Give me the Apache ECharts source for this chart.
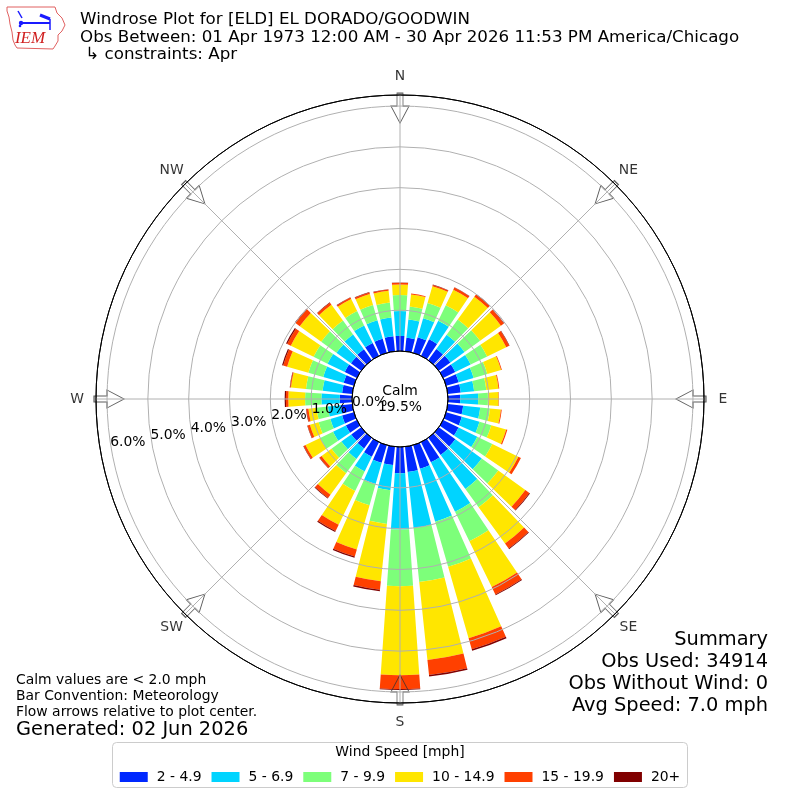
<!DOCTYPE html>
<html><head><meta charset="utf-8">
<script src="https://cdn.jsdelivr.net/npm/echarts@6/dist/echarts.min.js"></script>
<style>html,body{margin:0;padding:0;background:#fff}#c{width:800px;height:800px}</style>
</head><body><div id="c"></div>
<script>
// ---- data ----
const directions = [0,10,20,30,40,50,60,70,80,90,100,110,120,130,140,150,160,170,180,190,200,210,220,230,240,250,260,270,280,290,300,310,320,330,340,350];
const speedBins = ['2 - 4.9','5 - 6.9','7 - 9.9','10 - 14.9','15 - 19.9','20+'];
const binColors = ['#0028ff','#00d4ff','#7dff7a','#ffe600','#ff4000','#800000'];
// percent of observations per direction, for each speed bin
const bin2to5   = [.37,.33,.40,.45,.34,.35,.33,.32,.32,.30,.38,.40,.42,.50,.52,.55,.60,.62,.64,.45,.45,.40,.32,.30,.30,.30,.28,.30,.25,.26,.33,.31,.33,.35,.36,.37];
const bin5to7   = [.61,.45,.48,.51,.43,.43,.42,.38,.33,.44,.42,.45,.51,.80,1.03,1.35,1.35,1.38,1.38,.62,.54,.40,.32,.30,.35,.30,.32,.45,.48,.52,.47,.44,.45,.48,.47,.46];
const bin7to10  = [.39,.32,.39,.42,.46,.47,.45,.35,.30,.24,.24,.30,.41,.50,.55,.80,1.15,1.33,1.39,.83,.54,.53,.43,.30,.35,.30,.28,.40,.41,.38,.38,.46,.42,.39,.39,.37];
const bin10to15 = [.26,.30,.43,.42,.69,.63,.52,.35,.30,.26,.27,.38,.71,.82,1.10,1.25,1.82,1.92,2.18,1.41,1.13,.92,.65,.30,.40,.22,.20,.41,.37,.54,.62,.65,.48,.33,.28,.29];
const bin15to20 = [.04,.02,.03,.06,.07,.09,.08,.02,.02,.01,.02,.03,.07,.12,.15,.20,.28,.37,.34,.21,.18,.17,.10,.06,.05,.06,.05,.06,.02,.10,.10,.13,.06,.04,.04,.03];
const bin20plus = [.01,0,.01,.01,.01,.01,.01,0,0,0,0,0,0,.02,.02,.02,.04,.04,.02,.04,.03,.03,.02,.01,.01,.01,.01,.03,.01,.03,.03,.02,.01,.01,.01,.01];
const binData = [bin2to5,bin5to7,bin7to10,bin10to15,bin15to20,bin20plus];
const compassBearings = [0,45,90,135,180,225,270,315];
const compassNames = ['N','NE','E','SE','S','SW','W','NW'];
const radiusMax = 6.27;
const arrowRadius = 5.95;
const ringColors = ['#000','#b0b0b0','#b0b0b0','#b0b0b0','#b0b0b0','#b0b0b0','#b0b0b0','#000'];
const calmPct = '19.5%';
const titleLines = ['Windrose Plot for [ELD] EL DORADO/GOODWIN','Obs Between: 01 Apr 1973 12:00 AM - 30 Apr 2026 11:53 PM America/Chicago',' \u21b3 constraints: Apr'];
const summaryLines = ['Summary','Obs Used: 34914','Obs Without Wind: 0','Avg Speed: 7.0 mph'];
const noteLines = ['Calm values are < 2.0 mph','Bar Convention: Meteorology','Flow arrows relative to plot center.'];
const generated = 'Generated: 02 Jun 2026';

// ---- chart ----
const FONT = 'DejaVu Sans';
const FS = 13.9;
const C = [400, 399];
const R = [48, 304];
const chart = echarts.init(document.getElementById('c'));
const hidden = {axisLine:{show:false},axisTick:{show:false},axisLabel:{show:false},splitLine:{show:false}};

const graphics = [];
titleLines.forEach((t,i)=>graphics.push({type:'text',x:80,y:20+i*17.5,style:{text:t,fontSize:16.7,fontFamily:FONT,fill:'#000',align:'left',verticalAlign:'middle'}}));
summaryLines.forEach((t,i)=>graphics.push({type:'text',x:768,y:640+i*22,style:{text:t,fontSize:19.4,fontFamily:FONT,fill:'#000',align:'right',verticalAlign:'middle'}}));
noteLines.forEach((t,i)=>graphics.push({type:'text',x:16,y:680+i*16,style:{text:t,fontSize:FS,fontFamily:FONT,fill:'#000',align:'left',verticalAlign:'middle'}}));
graphics.push({type:'text',x:16,y:730,style:{text:generated,fontSize:19.4,fontFamily:FONT,fill:'#000',align:'left',verticalAlign:'middle'}});
graphics.push({type:'text',x:400,y:391,z:10,style:{text:'Calm',fontSize:FS,fontFamily:FONT,fill:'#000',align:'center',verticalAlign:'middle'}});
graphics.push({type:'text',x:400,y:407,z:10,style:{text:calmPct,fontSize:FS,fontFamily:FONT,fill:'#000',align:'center',verticalAlign:'middle'}});
// legend frame + title
graphics.push({type:'rect',z:-1,shape:{x:112.5,y:742.5,width:575,height:45,r:4},style:{fill:'#fff',stroke:'#cccccc',lineWidth:1}});
graphics.push({type:'text',x:400,y:752,style:{text:'Wind Speed [mph]',fontSize:FS,fontFamily:FONT,fill:'#000',align:'center',verticalAlign:'middle'}});
// logo
graphics.push({type:'polygon',shape:{points:[[7,7],[55,7],[57,13],[62,18],[65,25],[62,31],[58,35],[58,41],[55,46],[53,49],[17,48],[15,45],[13,40],[12,32],[10,24],[9,17],[7,11]]},style:{fill:'#fff',stroke:'#e06060',lineWidth:1}});
graphics.push({type:'line',shape:{x1:21,y1:23,x2:50,y2:23},style:{stroke:'#1a1aff',lineWidth:2}});
graphics.push({type:'line',shape:{x1:40,y1:15,x2:50,y2:19},style:{stroke:'#1a1aff',lineWidth:3}});
graphics.push({type:'line',shape:{x1:18,y1:11,x2:22,y2:18},style:{stroke:'#1a1aff',lineWidth:1.5}});
graphics.push({type:'line',shape:{x1:50,y1:19,x2:50,y2:30},style:{stroke:'#1a1aff',lineWidth:1.5}});
graphics.push({type:'circle',shape:{cx:21,cy:23,r:2.2},style:{fill:'#1a1aff'}});
graphics.push({type:'circle',shape:{cx:20,cy:26,r:1.3},style:{fill:'#1a1aff'}});
graphics.push({type:'text',x:30,y:39,style:{text:'IEM',fontSize:17,fontStyle:'italic',fontFamily:'Liberation Serif',fill:'#d02020',align:'center',verticalAlign:'middle'}});

const series = speedBins.map((name,i)=>({
  type:'bar', coordinateSystem:'polar', polarIndex:0, name, stack:'wind',
  data: binData[i], itemStyle:{color:binColors[i]}, barCategoryGap:'20%',
  z:2, silent:true, emphasis:{disabled:true}
}));
// flow arrows at the compass points
series.push({
  type:'scatter', coordinateSystem:'polar', polarIndex:1, silent:true, z:4,
  symbol:'path://M6,0L12,0L12,13L18,13L9,30L0,13L6,13Z', symbolSize:[18,30],
  data: compassBearings.map(b=>({value:[arrowRadius,b], symbolRotate:-b})),
  itemStyle:{color:'rgba(255,255,255,0)', borderColor:'#333', borderWidth:1}
});
// compass direction labels (centred just outside the rim)
series.push({
  type:'scatter', coordinateSystem:'polar', polarIndex:3, silent:true, z:6,
  symbol:'circle', symbolSize:1, itemStyle:{color:'rgba(0,0,0,0)'},
  data: compassBearings.map((b,i)=>({value:[1,b], name:compassNames[i]})),
  label:{show:true, position:'inside', formatter:'{b}', fontSize:FS, fontFamily:FONT, color:'#000'}
});

chart.setOption({
  animation:false,
  textStyle:{fontFamily:FONT},
  polar:[{center:C,radius:R},{center:C,radius:R},{center:C,radius:R},{center:C,radius:[0,323]}],
  angleAxis:[
    Object.assign({polarIndex:0,type:'category',data:directions.map(String),startAngle:95,clockwise:true,boundaryGap:true},hidden),
    {polarIndex:1,type:'value',min:0,max:360,interval:45,startAngle:90,clockwise:true,z:5,
      axisLine:{show:true,lineStyle:{color:'#000',width:1}},axisTick:{show:false},axisLabel:{show:false},
      splitLine:{show:true,lineStyle:{color:'#b0b0b0',width:1}}},
    Object.assign({polarIndex:2,type:'value',min:0,max:360,startAngle:189.2,clockwise:true},hidden),
    Object.assign({polarIndex:3,type:'value',min:0,max:360,startAngle:90,clockwise:true},hidden)
  ],
  radiusAxis:[
    Object.assign({polarIndex:0,type:'value',min:0,max:radiusMax},hidden),
    {polarIndex:1,type:'value',min:0,max:radiusMax,interval:1,z:5,axisLine:{show:false},axisTick:{show:false},axisLabel:{show:false},
      splitLine:{show:true,lineStyle:{color:ringColors,width:1}}},
    {polarIndex:2,type:'value',min:0,max:radiusMax,interval:1,z:6,axisLine:{show:false},axisTick:{show:false},splitLine:{show:false},
      axisLabel:{show:true,margin:-4,fontSize:FS,color:'#000',fontFamily:FONT,align:'left',verticalAlign:'middle',
        formatter:v=>(Math.abs(v-Math.round(v))<1e-9)?v.toFixed(1)+'%':''}},
    Object.assign({polarIndex:3,type:'value',min:0,max:1},hidden)
  ],
  legend:{top:765,left:'center',itemWidth:28,itemHeight:10,itemGap:10,icon:'rect',selectedMode:false,
    textStyle:{fontSize:FS,color:'#000',fontFamily:FONT,padding:[0,0,0,4]},data:speedBins},
  graphic:graphics,
  series
});
</script></body></html>
